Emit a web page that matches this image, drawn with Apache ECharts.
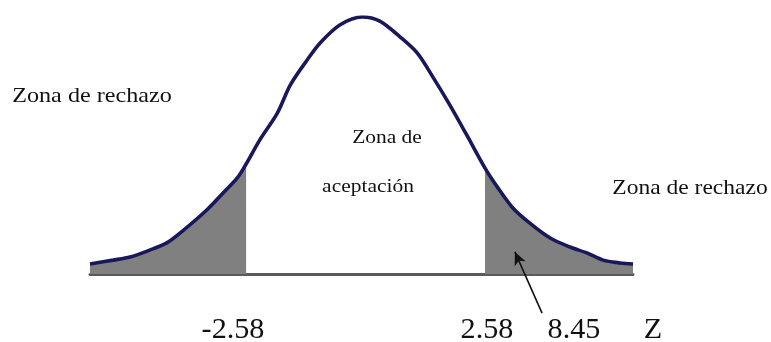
<!DOCTYPE html>
<html>
<head>
<meta charset="utf-8">
<script src="https://cdn.jsdelivr.net/npm/echarts@6/dist/echarts.min.js"></script>
<style>
    html, body { margin: 0; padding: 0; background: #fff; }
    #grafico { width: 771px; height: 342px; }
</style>
</head>
<body>
<div id="grafico"></div>
<script>
// valores de z (eje horizontal del esquema) y altura relativa de la curva
const curvaZ = [-4.00, -3.66, -3.41, -3.12, -2.87, -2.67, -2.28, -2.04, -1.83, -1.70, -1.50, -1.24, -1.05, -0.80, -0.61, -0.32, 0.01,
    0.27, 0.57, 0.82, 1.05, 1.30, 1.55, 1.82, 2.00, 2.23, 2.48, 2.78, 3.07, 3.32, 3.56, 3.81, 4.00];
const curvaAltura = [0.039, 0.054, 0.066, 0.093, 0.121, 0.160, 0.249, 0.315, 0.374, 0.428, 0.521, 0.626, 0.735, 0.833, 0.899, 0.969, 1.0,
    0.984, 0.922, 0.860, 0.767, 0.658, 0.541, 0.412, 0.339, 0.257, 0.198, 0.140, 0.105, 0.082, 0.054, 0.043, 0.039];

// limites de las zonas de rechazo (en el esquema)
const corteIzq = -1.70;
const corteDer = 1.82;

// textos
const etiquetasZ = ['-2.58', '2.58', '8.45', 'Z'];
const textoRechazo = 'Zona de rechazo';
const textoAceptacion = ['Zona de', 'aceptación'];

const fuente = "'Liberation Serif', 'DejaVu Serif', serif";
const suave = 0.3;

function puntos(filtro) {
    const res = [];
    curvaZ.forEach((z, i) => {
        if (filtro(z)) res.push([z, curvaAltura[i]]);
    });
    return res;
}

function texto(x, y, t, size, sx) {
    return {
        type: 'text',
        x: x,
        y: y,
        scaleX: sx,
        style: {
            text: t,
            font: size + 'px ' + fuente,
            fill: '#111',
            textAlign: 'center',
            textVerticalAlign: 'middle'
        }
    };
}

function initGrafico() {
    const chart = echarts.init(document.getElementById('grafico'));
    const option = {
        animation: false,
        grid: { left: 90, right: 138, top: 17, bottom: 16.6 },
        xAxis: {
            type: 'value',
            min: -4,
            max: 4,
            axisLine: { show: true, onZero: true, lineStyle: { color: '#5a5a5a', width: 3 } },
            axisTick: { show: false },
            axisLabel: { show: false },
            splitLine: { show: false }
        },
        yAxis: {
            type: 'value',
            min: -0.2,
            max: 1,
            show: false
        },
        graphic: [
            texto(92, 96, textoRechazo, 21, 1.15),
            texto(690, 188, textoRechazo, 21, 1.12),
            texto(387, 138, textoAceptacion[0], 19, 1.13),
            texto(368, 187, textoAceptacion[1], 19, 1.13),
            texto(233, 330, etiquetasZ[0], 29, 1.04),
            texto(487, 330, etiquetasZ[1], 29, 1.04),
            texto(574, 330, etiquetasZ[2], 29, 1.04),
            texto(653, 330, etiquetasZ[3], 29, 1.04)
        ],
        series: [
            {
                // cola izquierda sombreada
                type: 'line',
                data: puntos(z => z <= corteIzq),
                symbol: 'none',
                smooth: suave,
                lineStyle: { width: 0 },
                areaStyle: { color: '#808080', opacity: 1 },
                z: 1
            },
            {
                // cola derecha sombreada + flecha
                type: 'line',
                data: puntos(z => z >= corteDer),
                symbol: 'none',
                smooth: suave,
                clip: false,
                lineStyle: { width: 0 },
                areaStyle: { color: '#808080', opacity: 1 },
                z: 1,
                markLine: {
                    silent: true,
                    symbol: ['none', 'arrow'],
                    symbolSize: [9, 13],
                    label: { show: false },
                    lineStyle: { color: '#111', width: 1.6, type: 'solid' },
                    data: [[{ coord: [2.66, -0.152] }, { coord: [2.26, 0.086] }]]
                }
            },
            {
                // curva normal
                type: 'line',
                data: puntos(() => true),
                symbol: 'none',
                smooth: suave,
                lineStyle: { color: '#18185a', width: 3.6 },
                z: 3
            }
        ]
    };
    chart.setOption(option);
}

document.addEventListener('DOMContentLoaded', function() {
    initGrafico();
});
</script>
</body>
</html>
